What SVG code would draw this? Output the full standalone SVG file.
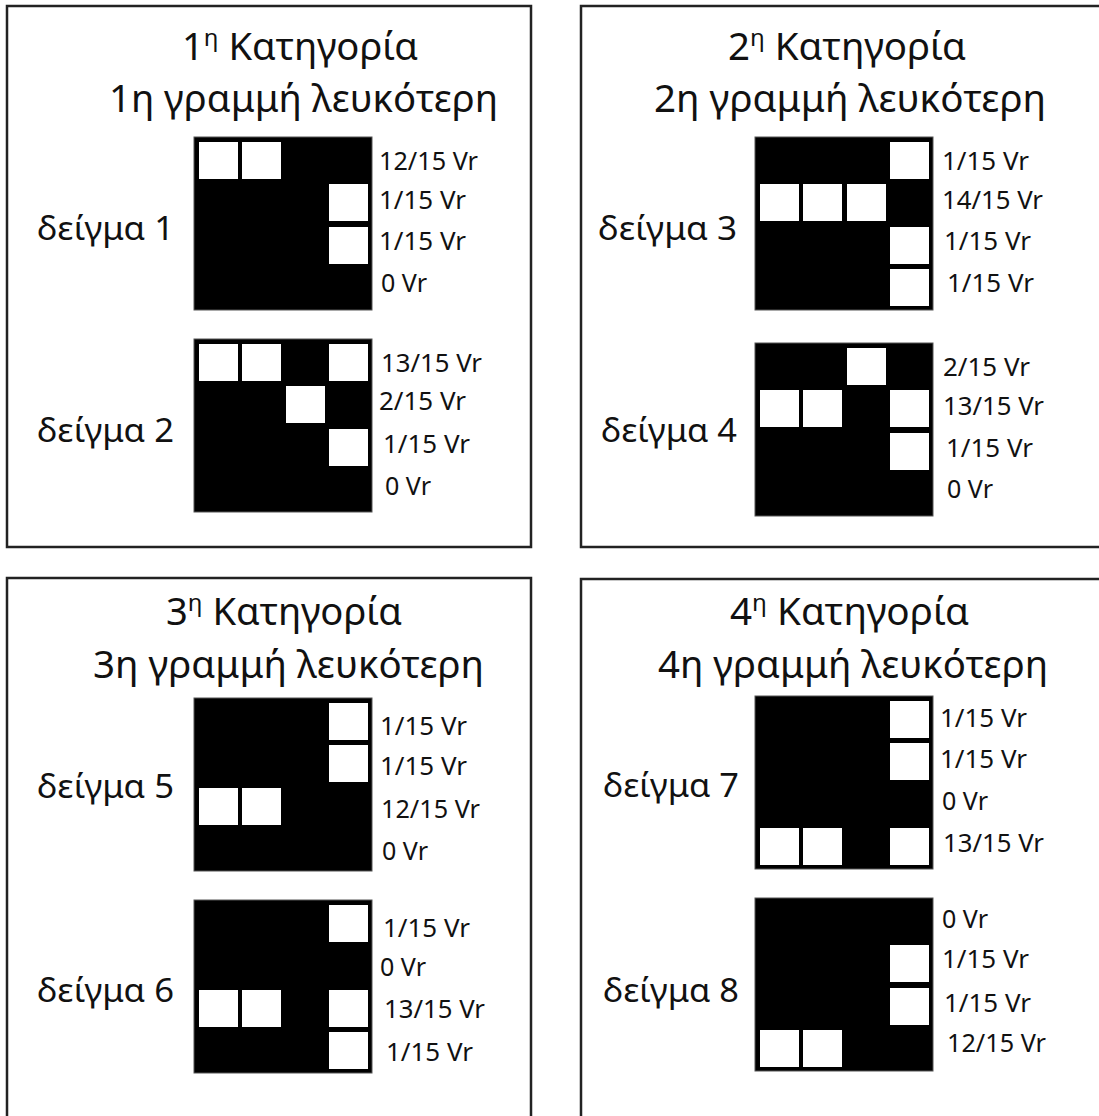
<svg xmlns="http://www.w3.org/2000/svg" width="1099" height="1116" viewBox="0 0 1099 1116">
<style>
.panel{fill:#fff;stroke:#222;stroke-width:2.5}
.grid{fill:#000;stroke:#555;stroke-width:1}
.t{font-family:"Noto Sans","DejaVu Sans",sans-serif;fill:#111}
.title{font-size:38px}
.sample{font-size:32px}
.v{font-size:25px}
</style>
<defs>
<rect id="c" width="39" height="37" fill="#fff"/>
</defs>
<rect width="1099" height="1116" fill="#fff"/>

<g id="panel1">
<rect class="panel" x="7" y="6" width="524" height="541"/>
<text class="t title" x="182" y="60" textLength="236" lengthAdjust="spacingAndGlyphs">1<tspan font-size="24" dy="-14">η</tspan><tspan dy="14"> Κατηγορία</tspan></text>
<text class="t title" x="109" y="112" textLength="389" lengthAdjust="spacingAndGlyphs">1η γραμμή λευκότερη</text>
<g id="sample1">
<text class="t sample" x="37" y="240" textLength="137" lengthAdjust="spacingAndGlyphs">δείγμα 1</text>
<rect class="grid" x="194" y="137" width="178" height="173"/>
<use href="#c" x="199" y="142"/><use href="#c" x="242" y="142"/><use href="#c" x="329" y="184"/><use href="#c" x="329" y="227"/>
<text class="t v" x="379" y="170" textLength="99" lengthAdjust="spacingAndGlyphs">12/15 Vr</text>
<text class="t v" x="379" y="209" textLength="87" lengthAdjust="spacingAndGlyphs">1/15 Vr</text>
<text class="t v" x="379" y="250" textLength="87" lengthAdjust="spacingAndGlyphs">1/15 Vr</text>
<text class="t v" x="381" y="292" textLength="46" lengthAdjust="spacingAndGlyphs">0 Vr</text>
</g>
<g id="sample2">
<text class="t sample" x="37" y="442" textLength="137" lengthAdjust="spacingAndGlyphs">δείγμα 2</text>
<rect class="grid" x="194" y="339" width="178" height="173"/>
<use href="#c" x="199" y="344"/><use href="#c" x="242" y="344"/><use href="#c" x="329" y="344"/><use href="#c" x="286" y="386"/><use href="#c" x="329" y="429"/>
<text class="t v" x="381" y="372" textLength="101" lengthAdjust="spacingAndGlyphs">13/15 Vr</text>
<text class="t v" x="379" y="410" textLength="87" lengthAdjust="spacingAndGlyphs">2/15 Vr</text>
<text class="t v" x="383" y="453" textLength="87" lengthAdjust="spacingAndGlyphs">1/15 Vr</text>
<text class="t v" x="385" y="495" textLength="46" lengthAdjust="spacingAndGlyphs">0 Vr</text>
</g>
</g>

<g id="panel2">
<rect class="panel" x="581" y="6" width="540" height="541"/>
<text class="t title" x="728" y="60" textLength="238" lengthAdjust="spacingAndGlyphs">2<tspan font-size="24" dy="-14">η</tspan><tspan dy="14"> Κατηγορία</tspan></text>
<text class="t title" x="654" y="112" textLength="392" lengthAdjust="spacingAndGlyphs">2η γραμμή λευκότερη</text>
<g id="sample3">
<text class="t sample" x="598" y="240" textLength="139" lengthAdjust="spacingAndGlyphs">δείγμα 3</text>
<rect class="grid" x="755" y="137" width="178" height="173"/>
<use href="#c" x="890" y="142"/><use href="#c" x="760" y="184"/><use href="#c" x="803" y="184"/><use href="#c" x="847" y="184"/><use href="#c" x="890" y="227"/><use href="#c" x="890" y="269"/>
<text class="t v" x="942" y="170" textLength="87" lengthAdjust="spacingAndGlyphs">1/15 Vr</text>
<text class="t v" x="942" y="209" textLength="101" lengthAdjust="spacingAndGlyphs">14/15 Vr</text>
<text class="t v" x="944" y="250" textLength="87" lengthAdjust="spacingAndGlyphs">1/15 Vr</text>
<text class="t v" x="947" y="292" textLength="87" lengthAdjust="spacingAndGlyphs">1/15 Vr</text>
</g>
<g id="sample4">
<text class="t sample" x="601" y="442" textLength="136" lengthAdjust="spacingAndGlyphs">δείγμα 4</text>
<rect class="grid" x="755" y="343" width="178" height="173"/>
<use href="#c" x="847" y="348"/><use href="#c" x="760" y="390"/><use href="#c" x="803" y="390"/><use href="#c" x="890" y="390"/><use href="#c" x="890" y="433"/>
<text class="t v" x="943" y="376" textLength="87" lengthAdjust="spacingAndGlyphs">2/15 Vr</text>
<text class="t v" x="943" y="415" textLength="101" lengthAdjust="spacingAndGlyphs">13/15 Vr</text>
<text class="t v" x="946" y="457" textLength="87" lengthAdjust="spacingAndGlyphs">1/15 Vr</text>
<text class="t v" x="947" y="498" textLength="46" lengthAdjust="spacingAndGlyphs">0 Vr</text>
</g>
</g>

<g id="panel3">
<rect class="panel" x="7" y="578" width="524" height="560"/>
<text class="t title" x="166" y="625" textLength="236" lengthAdjust="spacingAndGlyphs">3<tspan font-size="24" dy="-14">η</tspan><tspan dy="14"> Κατηγορία</tspan></text>
<text class="t title" x="93" y="678" textLength="391" lengthAdjust="spacingAndGlyphs">3η γραμμή λευκότερη</text>
<g id="sample5">
<text class="t sample" x="37" y="798" textLength="137" lengthAdjust="spacingAndGlyphs">δείγμα 5</text>
<rect class="grid" x="194" y="698" width="178" height="173"/>
<use href="#c" x="329" y="703"/><use href="#c" x="329" y="745"/><use href="#c" x="199" y="788"/><use href="#c" x="242" y="788"/>
<text class="t v" x="380" y="735" textLength="87" lengthAdjust="spacingAndGlyphs">1/15 Vr</text>
<text class="t v" x="380" y="775" textLength="87" lengthAdjust="spacingAndGlyphs">1/15 Vr</text>
<text class="t v" x="381" y="818" textLength="99" lengthAdjust="spacingAndGlyphs">12/15 Vr</text>
<text class="t v" x="382" y="860" textLength="46" lengthAdjust="spacingAndGlyphs">0 Vr</text>
</g>
<g id="sample6">
<text class="t sample" x="37" y="1002" textLength="137" lengthAdjust="spacingAndGlyphs">δείγμα 6</text>
<rect class="grid" x="194" y="900" width="178" height="173"/>
<use href="#c" x="329" y="905"/><use href="#c" x="199" y="990"/><use href="#c" x="242" y="990"/><use href="#c" x="329" y="990"/><use href="#c" x="329" y="1032"/>
<text class="t v" x="383" y="937" textLength="87" lengthAdjust="spacingAndGlyphs">1/15 Vr</text>
<text class="t v" x="380" y="976" textLength="46" lengthAdjust="spacingAndGlyphs">0 Vr</text>
<text class="t v" x="384" y="1018" textLength="101" lengthAdjust="spacingAndGlyphs">13/15 Vr</text>
<text class="t v" x="386" y="1061" textLength="87" lengthAdjust="spacingAndGlyphs">1/15 Vr</text>
</g>
</g>

<g id="panel4">
<rect class="panel" x="581" y="579" width="540" height="560"/>
<text class="t title" x="730" y="625" textLength="239" lengthAdjust="spacingAndGlyphs">4<tspan font-size="24" dy="-14">η</tspan><tspan dy="14"> Κατηγορία</tspan></text>
<text class="t title" x="658" y="678" textLength="390" lengthAdjust="spacingAndGlyphs">4η γραμμή λευκότερη</text>
<g id="sample7">
<text class="t sample" x="603" y="797" textLength="136" lengthAdjust="spacingAndGlyphs">δείγμα 7</text>
<rect class="grid" x="755" y="696" width="178" height="173"/>
<use href="#c" x="890" y="701"/><use href="#c" x="890" y="743"/><use href="#c" x="760" y="828"/><use href="#c" x="803" y="828"/><use href="#c" x="890" y="828"/>
<text class="t v" x="940" y="727" textLength="87" lengthAdjust="spacingAndGlyphs">1/15 Vr</text>
<text class="t v" x="940" y="768" textLength="87" lengthAdjust="spacingAndGlyphs">1/15 Vr</text>
<text class="t v" x="942" y="810" textLength="46" lengthAdjust="spacingAndGlyphs">0 Vr</text>
<text class="t v" x="943" y="852" textLength="101" lengthAdjust="spacingAndGlyphs">13/15 Vr</text>
</g>
<g id="sample8">
<text class="t sample" x="603" y="1002" textLength="136" lengthAdjust="spacingAndGlyphs">δείγμα 8</text>
<rect class="grid" x="755" y="898" width="178" height="173"/>
<use href="#c" x="890" y="945"/><use href="#c" x="890" y="988"/><use href="#c" x="760" y="1030"/><use href="#c" x="803" y="1030"/>
<text class="t v" x="942" y="928" textLength="46" lengthAdjust="spacingAndGlyphs">0 Vr</text>
<text class="t v" x="942" y="968" textLength="87" lengthAdjust="spacingAndGlyphs">1/15 Vr</text>
<text class="t v" x="944" y="1012" textLength="87" lengthAdjust="spacingAndGlyphs">1/15 Vr</text>
<text class="t v" x="947" y="1052" textLength="99" lengthAdjust="spacingAndGlyphs">12/15 Vr</text>
</g>
</g>
</svg>
